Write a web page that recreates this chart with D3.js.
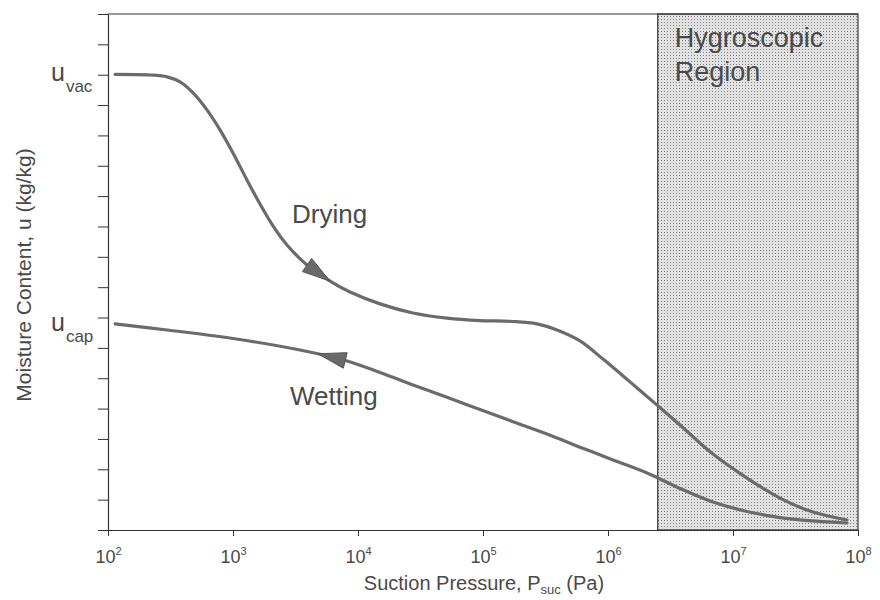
<!DOCTYPE html>
<html>
<head>
<meta charset="utf-8">
<script src="https://cdn.jsdelivr.net/npm/d3@7"></script>
<style>
  html, body { margin: 0; padding: 0; background: #fff; }
  svg { display: block; font-family: "Liberation Sans", Arial, Helvetica, sans-serif; }
</style>
</head>
<body>
<svg id="chart" width="880" height="600"></svg>
<script>
// Suction pressure (Pa) and moisture content (relative units, axis 0..17) along the drying curve
const dryingPressure = [114, 217, 297, 377, 479, 619, 787, 1000, 1294, 1644, 2089, 2704, 3908, 6310, 8630,
  15000, 27540, 51520, 94620, 173800, 270400, 390800, 597000, 912000, 1500000, 2512000,
  3767000, 6918000, 12940000, 23770000, 43650000, 81660000];
const dryingMoisture = [15.01, 14.99, 14.93, 14.76, 14.40, 13.84, 13.18, 12.42, 11.53, 10.74, 10.02, 9.39, 8.73, 8.14, 7.84,
  7.45, 7.15, 6.98, 6.90, 6.87, 6.79, 6.59, 6.23, 5.63, 4.88, 4.09,
  3.46, 2.50, 1.71, 1.05, 0.59, 0.33];

// Wetting curve
const wettingPressure = [114, 297, 1000, 3436, 8166, 15000, 27540, 51520, 94620, 173800, 325100,
  597000, 1096000, 2051000, 3767000, 6918000, 12940000, 23770000, 43650000, 81660000];
const wettingMoisture = [6.79, 6.59, 6.31, 5.93, 5.57, 5.19, 4.78, 4.37, 3.97, 3.57, 3.16,
  2.73, 2.31, 1.88, 1.37, 0.92, 0.61, 0.41, 0.30, 0.23];

// Axis definitions
const xTickValues = [1e2, 1e3, 1e4, 1e5, 1e6, 1e7, 1e8];
const yTickValues = d3.range(0, 18);
const hygroscopicStart = 2.5e6;   // Pa
const hygroscopicEnd = 1e8;       // Pa
const arrowDryingAt = 5970;       // Pa, tip of the drying arrow
const arrowWettingAt = 4790;      // Pa, tip of the wetting arrow

const svg = d3.select("#chart");
const margin = { left: 108, right: 22, top: 14, bottom: 70 };
const W = 880, H = 600;

const x = d3.scaleLog().domain([1e2, 1e8]).range([margin.left, W - margin.right]);
const y = d3.scaleLinear().domain([0, 17]).range([H - margin.bottom, margin.top]);

const textColor = "#4a4a4a";
const axisColor = "#333";
const curveColor = "#6b6b6b";

// Stipple pattern for the hygroscopic band
const defs = svg.append("defs");
const pat = defs.append("pattern").attr("id", "stipple")
  .attr("patternUnits", "userSpaceOnUse").attr("width", 3).attr("height", 3);
pat.append("rect").attr("width", 3).attr("height", 3).attr("fill", "#e2e2e2");
pat.append("rect").attr("x", 1).attr("y", 1).attr("width", 1).attr("height", 1).attr("fill", "#808080");

svg.append("rect")
  .attr("x", x(hygroscopicStart)).attr("y", y(17))
  .attr("width", x(hygroscopicEnd) - x(hygroscopicStart))
  .attr("height", y(0) - y(17))
  .attr("fill", "url(#stipple)")
  .attr("stroke", axisColor).attr("stroke-width", 1.2);

const hygroText = svg.append("text")
  .attr("fill", textColor).attr("font-size", 27);
hygroText.append("tspan").attr("x", x(hygroscopicStart) + 17).attr("y", 47).text("Hygroscopic");
hygroText.append("tspan").attr("x", x(hygroscopicStart) + 17).attr("y", 81).text("Region");

// Axes
const yAxis = d3.axisLeft(y).tickValues(yTickValues).tickSize(10).tickSizeOuter(0).tickFormat("");
const yG = svg.append("g").attr("transform", `translate(${margin.left},0)`).call(yAxis);

const xAxis = d3.axisBottom(x).tickValues(xTickValues).tickSize(6).tickSizeOuter(0)
  .tickFormat(() => "");
const xG = svg.append("g").attr("transform", `translate(0,${y(0)})`).call(xAxis);

// top frame line
svg.append("line")
  .attr("x1", x(1e2)).attr("x2", x(1e8))
  .attr("y1", y(17)).attr("y2", y(17))
  .attr("stroke", axisColor).attr("stroke-width", 1.2);

[yG, xG].forEach(g => {
  g.selectAll("path.domain").attr("stroke", axisColor).attr("stroke-width", 1.2);
  g.selectAll(".tick line").attr("stroke", axisColor).attr("stroke-width", 1);
});

// Power-of-ten tick labels
xG.selectAll(".tick").each(function (d) {
  const t = d3.select(this).select("text")
    .attr("y", 33).attr("dy", 0)
    .attr("fill", textColor).attr("font-size", 18)
    .attr("font-family", "'Liberation Sans', Arial, sans-serif")
    .attr("text-anchor", "middle");
  t.text(null);
  t.append("tspan").text("10");
  t.append("tspan").attr("font-size", 11).attr("dy", -8).text(Math.round(Math.log10(d)));
});

// Curves
const line = d3.line()
  .x((d) => x(d[0]))
  .y((d) => y(d[1]))
  .curve(d3.curveCatmullRom.alpha(0.5));

const dryingData = dryingPressure.map((p, i) => [p, dryingMoisture[i]]);
const wettingData = wettingPressure.map((p, i) => [p, wettingMoisture[i]]);

const dryingPath = svg.append("path").datum(dryingData)
  .attr("d", line).attr("fill", "none")
  .attr("stroke", curveColor).attr("stroke-width", 3.2)
  .attr("stroke-linecap", "round").attr("stroke-linejoin", "round");

const wettingPath = svg.append("path").datum(wettingData)
  .attr("d", line).attr("fill", "none")
  .attr("stroke", curveColor).attr("stroke-width", 3.2)
  .attr("stroke-linecap", "round").attr("stroke-linejoin", "round");

// Direction arrows placed on each curve at a given pressure
function pointAtX(pathNode, targetX) {
  const total = pathNode.getTotalLength();
  let lo = 0, hi = total;
  for (let i = 0; i < 40; i++) {
    const mid = (lo + hi) / 2;
    if (pathNode.getPointAtLength(mid).x < targetX) lo = mid; else hi = mid;
  }
  return (lo + hi) / 2;
}

function drawArrow(pathNode, pressure, forward) {
  const len = pointAtX(pathNode, x(pressure));
  const tip = pathNode.getPointAtLength(len);
  const back = pathNode.getPointAtLength(forward ? len - 28 : len + 28);
  const dx = tip.x - back.x, dy = tip.y - back.y;
  const n = Math.hypot(dx, dy);
  const ux = dx / n, uy = dy / n;
  const L = 28, hw = 8;
  const bx = tip.x - ux * L, by = tip.y - uy * L;
  const pts = [
    [tip.x, tip.y],
    [bx - uy * hw, by + ux * hw],
    [bx + uy * hw, by - ux * hw]
  ];
  svg.append("path")
    .attr("d", "M" + pts.map(p => p.join(",")).join("L") + "Z")
    .attr("fill", "#6a6a6a").attr("stroke", "#555").attr("stroke-width", 1)
    .attr("stroke-linejoin", "round");
}

drawArrow(dryingPath.node(), arrowDryingAt, true);
drawArrow(wettingPath.node(), arrowWettingAt, false);

// Curve labels
svg.append("text").attr("x", 292).attr("y", 223)
  .attr("fill", textColor).attr("font-size", 26).text("Drying");
svg.append("text").attr("x", 290).attr("y", 405)
  .attr("fill", textColor).attr("font-size", 26).text("Wetting");

// u_vac / u_cap labels at the curve starting levels
function uLabel(level, sub) {
  const t = svg.append("text").attr("x", 51).attr("y", y(level) + 7)
    .attr("fill", textColor).attr("font-size", 25);
  t.append("tspan").text("u");
  t.append("tspan").attr("font-size", 17).attr("dy", 11).attr("dx", 1).text(sub);
}
uLabel(dryingMoisture[0], "vac");
uLabel(wettingMoisture[0], "cap");

// Axis titles
const xTitle = svg.append("text")
  .attr("x", 484).attr("y", 590)
  .attr("text-anchor", "middle")
  .attr("fill", textColor).attr("font-size", 20);
xTitle.append("tspan").text("Suction Pressure, P");
xTitle.append("tspan").attr("font-size", 13).attr("dy", 4).text("suc");
xTitle.append("tspan").attr("dy", -4).text(" (Pa)");

svg.append("text")
  .attr("transform", "translate(31,275) rotate(-90)")
  .attr("text-anchor", "middle")
  .attr("fill", textColor).attr("font-size", 21)
  .text("Moisture Content, u (kg/kg)");
</script>
</body>
</html>
